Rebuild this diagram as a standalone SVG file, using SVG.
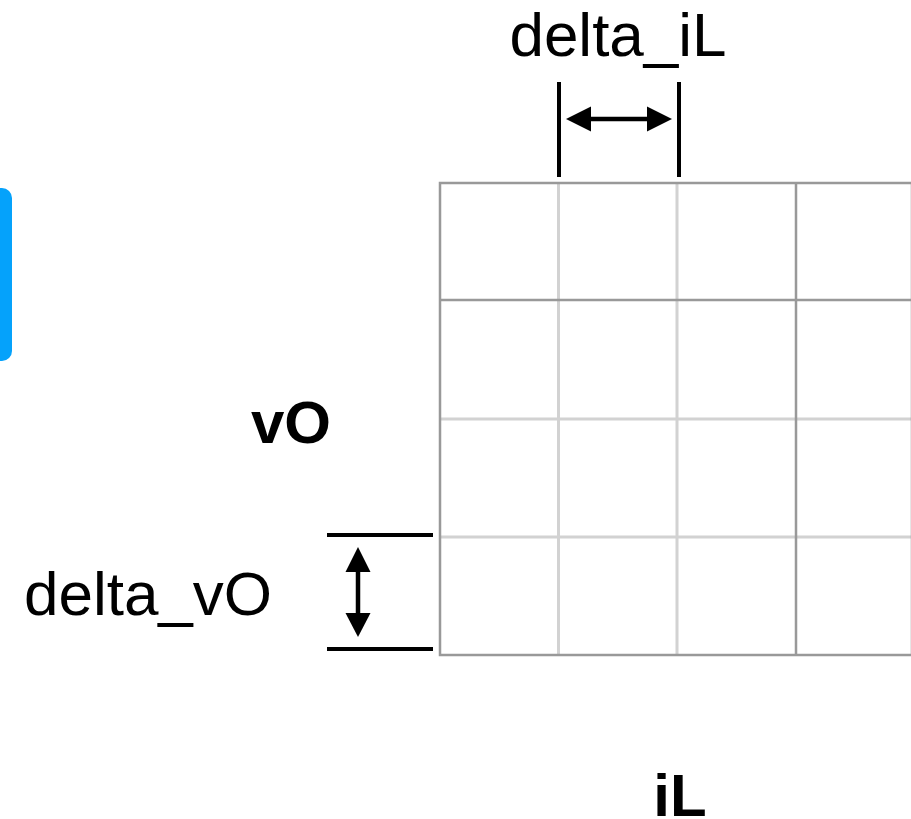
<svg xmlns="http://www.w3.org/2000/svg" width="911" height="819" viewBox="0 0 911 819">
  <style>
    .lbl { font-family: "Liberation Sans", Arial, Helvetica, sans-serif; fill: #000; text-anchor: middle; }
    .reg { font-size: 62px; }
    .bold { font-size: 60px; font-weight: bold; }
    .light { stroke: #d2d2d2; stroke-width: 3; fill: none; }
    .dark { stroke: #999; stroke-width: 2.5; fill: none; }
    .bar { stroke: #000; stroke-width: 4; }
    .shaft { stroke: #000; stroke-width: 4.5; }
  </style>
  <rect width="911" height="819" fill="#fff"/>

  <g id="blue-panel">
    <rect x="-12" y="188" width="24" height="173" rx="10" fill="#05A2FB"/>
  </g>

  <g id="grid">
    <line class="light" x1="558.5" y1="183" x2="558.5" y2="655"/>
    <line class="light" x1="677" y1="183" x2="677" y2="655"/>
    <line class="light" x1="440" y1="419" x2="913" y2="419"/>
    <line class="light" x1="440" y1="537" x2="913" y2="537"/>
    <line class="dark" x1="796" y1="183" x2="796" y2="655"/>
    <line class="dark" x1="440" y1="300" x2="913" y2="300"/>
    <rect class="dark" x="440" y="183" width="472" height="472"/>
  </g>

  <g id="label-delta-iL">
    <text class="lbl reg" x="618" y="56">delta_iL</text>
  </g>
  <g id="label-vO">
    <text class="lbl bold" x="291" y="443">vO</text>
  </g>
  <g id="label-delta-vO">
    <text class="lbl reg" x="148" y="615">delta_vO</text>
  </g>
  <g id="label-iL">
    <text class="lbl bold" x="680" y="816">iL</text>
  </g>

  <g id="connectors">
    <line class="bar" x1="559" y1="82" x2="559" y2="177"/>
    <line class="bar" x1="679" y1="82" x2="679" y2="177"/>
    <line class="shaft" x1="588" y1="119" x2="650" y2="119"/>
    <polygon points="566,119 591,106.5 591,131.5" fill="#000"/>
    <polygon points="672,119 647,106.5 647,131.5" fill="#000"/>

    <line class="bar" x1="327" y1="535" x2="433" y2="535"/>
    <line class="bar" x1="327" y1="649" x2="433" y2="649"/>
    <line class="shaft" x1="358" y1="569" x2="358" y2="616"/>
    <polygon points="358,547 345.5,572 370.5,572" fill="#000"/>
    <polygon points="358,637 345.5,613 370.5,613" fill="#000"/>
  </g>
</svg>
